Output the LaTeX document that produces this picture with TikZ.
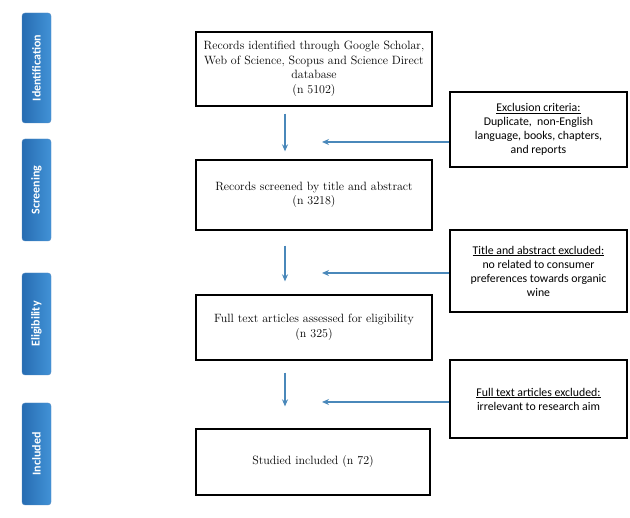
\documentclass[tikz,border=0pt]{standalone}
\usepackage{fontspec}
\newfontfamily\sidefont{Carlito}
\usetikzlibrary{arrows.meta,positioning}
\definecolor{tabblue}{RGB}{66,146,214}
\definecolor{tabdark}{RGB}{38,108,178}
\definecolor{arrowblue}{RGB}{74,136,186}

\begin{document}
\begin{tikzpicture}[
    x=1pt, y=-1pt,
    mainbox/.style={rectangle, draw, line width=1.3pt, minimum width=236pt, align=center,
        font=\fontsize{12}{14.5}\selectfont},
    sidebox/.style={rectangle, draw, line width=1.3pt, minimum width=177pt, align=center,
        font=\sidefont\fontsize{11.8}{14}\selectfont},
    phase/.style={rectangle, rounded corners=3pt, rotate=90, minimum height=29pt,
        left color=tabdark, right color=tabblue, draw=tabdark!80, text=white,
        font=\sidefont\bfseries\fontsize{12}{13}\selectfont},
    arrow/.style={line width=1.4pt, draw=arrowblue, -{Stealth[length=7pt,width=6pt]}}
]
    \useasboundingbox (0,0) rectangle (630,518);

    % phase tabs
    \node[phase, minimum width=110pt] (tabid) at (36.5,68) {Identification};
    \node[phase, minimum width=102pt] (tabscr) at (36.5,190) {Screening};
    \node[phase, minimum width=102pt] (tabelig) at (36.5,324) {Eligibility};
    \node[phase, minimum width=102pt] (tabinc) at (36.5,454) {Included};

    % main column
    \node[mainbox, minimum height=74pt] (ident) at (314,69)
        {Records identified through Google Scholar,\\ Web of Science, Scopus and Science Direct\\ database\\ (n 5102)};
    \node[mainbox, minimum height=70pt] (screen) at (314,195)
        {Records screened by title and abstract\\ (n 3218)};
    \node[mainbox, minimum height=65pt] (elig) at (314,327.5)
        {Full text articles assessed for eligibility\\ (n 325)};
    \node[mainbox, minimum height=66pt, minimum width=234pt] (incl) at (313,462)
        {Studied included (n 72)};

    % exclusions
    \node[sidebox, minimum height=75pt] (excl) at (538.5,129.5)
        {\underline{Exclusion criteria:}\\ Duplicate,\ \ non-English\\ language, books, chapters,\\ and reports};
    \node[sidebox, minimum height=82pt] (absexcl) at (538.5,271)
        {\underline{Title and abstract excluded:}\\ no related to consumer\\ preferences towards organic\\ wine};
    \node[sidebox, minimum height=78pt] (fullexcl) at (538.5,399)
        {\underline{Full text articles excluded:}\\ irrelevant to research aim};

    % arrows
    \coordinate (h1) at (322,142);
    \coordinate (h2) at (322,273);
    \coordinate (h3) at (322,402);
    \draw[arrow, shorten <=7pt, shorten >=8pt] ([xshift=-29pt]ident.south) -- ([xshift=-29pt]screen.north);
    \draw[arrow, shorten <=15pt, shorten >=13pt] ([xshift=-29pt]screen.south) -- ([xshift=-29pt]elig.north);
    \draw[arrow, shorten <=12pt, shorten >=22pt] ([xshift=-29pt]elig.south) -- ([xshift=-28pt]incl.north);
    \draw[arrow] (excl.west |- h1) -- (h1);
    \draw[arrow] (absexcl.west |- h2) -- (h2);
    \draw[arrow] (fullexcl.west |- h3) -- (h3);
\end{tikzpicture}
\end{document}
